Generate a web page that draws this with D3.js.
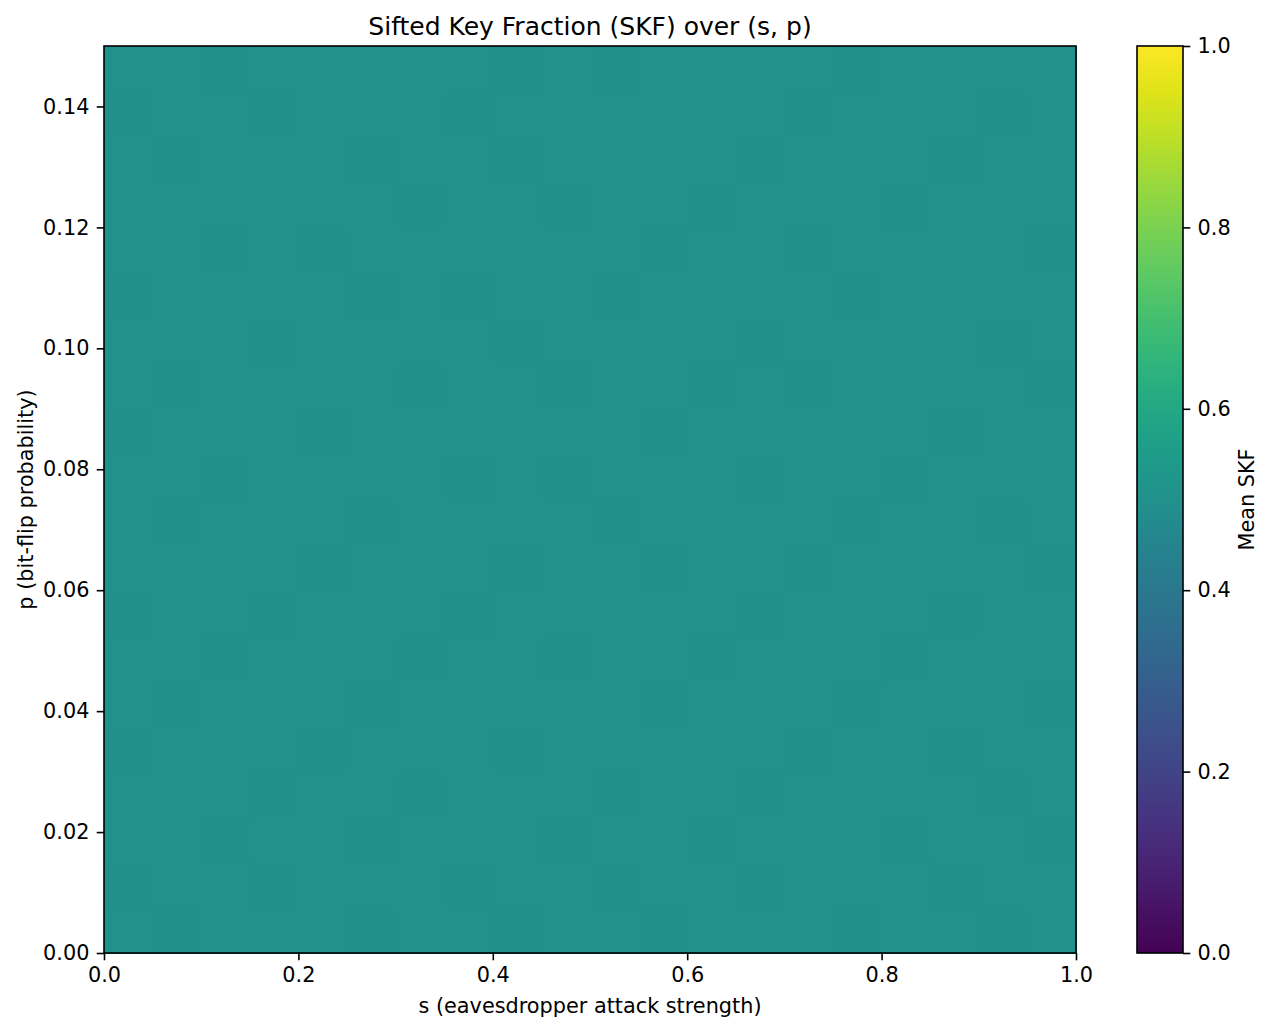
<!DOCTYPE html>
<html>
<head>
<meta charset="utf-8">
<script src="https://cdn.jsdelivr.net/npm/d3@7"></script>
<style>
html,body{margin:0;padding:0;background:#fff;}
svg text{font-family:"DejaVu Sans",sans-serif;fill:#000;}
</style>
</head>
<body>
<svg id="chart" width="1274" height="1032"></svg>
<script>
// Data
const sValues = [0.00,0.05,0.10,0.15,0.20,0.25,0.30,0.35,0.40,0.45,0.50,0.55,0.60,0.65,0.70,0.75,0.80,0.85,0.90,0.95,1.00];
const pValues = [0.0000,0.0075,0.0150,0.0225,0.0300,0.0375,0.0450,0.0525,0.0600,0.0675,0.0750,0.0825,0.0900,0.0975,0.1050,0.1125,0.1200,0.1275,0.1350,0.1425,0.1500];
// mean SKF per row (p bin, bottom to top), per column (s bin, left to right)
const skfRows = [
 [0.5010,0.4995,0.5000,0.5015,0.5000,0.4995,0.5005,0.5000,0.4990,0.5000,0.5005,0.4995,0.5000,0.5010,0.5000,0.4995,0.5005,0.5000,0.4995,0.5000],
 [0.4995,0.5005,0.5000,0.4990,0.5005,0.5000,0.5010,0.4995,0.5000,0.5005,0.4995,0.5000,0.5005,0.4995,0.5000,0.5010,0.5000,0.4995,0.5005,0.5000],
 [0.5000,0.5010,0.4995,0.5000,0.5005,0.4995,0.5000,0.5005,0.5000,0.4995,0.5010,0.5000,0.4995,0.5005,0.5000,0.5000,0.4995,0.5005,0.5000,0.4995],
 [0.5010,0.5000,0.5005,0.4995,0.5000,0.5010,0.4995,0.5000,0.5005,0.5000,0.4995,0.5005,0.5000,0.4990,0.5005,0.5000,0.5010,0.5000,0.4995,0.5005],
 [0.4995,0.5000,0.5005,0.5000,0.4995,0.5005,0.5000,0.5010,0.4995,0.5000,0.5005,0.5000,0.5010,0.5000,0.4995,0.5005,0.5000,0.4995,0.5000,0.5005],
 [0.5000,0.4995,0.5010,0.5005,0.5000,0.4995,0.5005,0.5000,0.5000,0.5010,0.5000,0.4995,0.5000,0.5005,0.5000,0.4995,0.5005,0.5000,0.5010,0.4995],
 [0.5005,0.5000,0.4995,0.5000,0.5010,0.5000,0.4995,0.5005,0.5000,0.4995,0.5000,0.5010,0.4995,0.5000,0.5005,0.5000,0.4995,0.5010,0.5000,0.5000],
 [0.4995,0.5005,0.5000,0.4995,0.5000,0.5005,0.5000,0.4995,0.5010,0.5000,0.5005,0.5000,0.5000,0.4995,0.5010,0.5000,0.5005,0.4995,0.5000,0.5005],
 [0.5000,0.5000,0.5005,0.5010,0.4995,0.5000,0.5010,0.5000,0.4995,0.5005,0.5000,0.4995,0.5005,0.5000,0.4995,0.5005,0.5000,0.5000,0.5005,0.4995],
 [0.5010,0.4995,0.5000,0.5000,0.5005,0.4995,0.5000,0.5005,0.5000,0.5000,0.4995,0.5005,0.5000,0.5010,0.5000,0.4995,0.5000,0.5005,0.4995,0.5000],
 [0.5000,0.5005,0.4995,0.5005,0.5000,0.5010,0.5000,0.4995,0.5005,0.4995,0.5000,0.5000,0.5010,0.4995,0.5005,0.5000,0.4995,0.5000,0.5005,0.5010],
 [0.4995,0.5000,0.5010,0.5000,0.4995,0.5000,0.5005,0.5000,0.5000,0.5005,0.5010,0.4995,0.5000,0.5005,0.5000,0.5010,0.5000,0.4995,0.5000,0.5000],
 [0.5005,0.4995,0.5000,0.5005,0.5000,0.5005,0.4995,0.5010,0.5000,0.4995,0.5000,0.5005,0.4995,0.5000,0.4995,0.5005,0.5000,0.5010,0.5000,0.4995],
 [0.5000,0.5010,0.5005,0.4995,0.5000,0.5000,0.5005,0.5000,0.4995,0.5010,0.5005,0.5000,0.5000,0.4995,0.5005,0.5000,0.5010,0.5000,0.4995,0.5005],
 [0.4995,0.5000,0.5000,0.5010,0.5005,0.4995,0.5000,0.4995,0.5005,0.5000,0.4995,0.5010,0.5005,0.5000,0.5000,0.4995,0.5000,0.5005,0.5000,0.5000],
 [0.5005,0.5000,0.4995,0.5000,0.4995,0.5005,0.5010,0.5000,0.5000,0.5005,0.5000,0.4995,0.5000,0.5010,0.4995,0.5000,0.5005,0.5000,0.5010,0.4995],
 [0.5000,0.5005,0.5000,0.5005,0.5000,0.5000,0.4995,0.5005,0.5010,0.4995,0.5005,0.5000,0.4995,0.5005,0.5000,0.5010,0.4995,0.5000,0.5005,0.5000],
 [0.5010,0.4995,0.5005,0.5000,0.5010,0.4995,0.5000,0.5000,0.4995,0.5005,0.5000,0.5005,0.5000,0.4995,0.5005,0.5000,0.5000,0.4995,0.5000,0.5005],
 [0.4995,0.5000,0.5000,0.4995,0.5005,0.5000,0.5005,0.4995,0.5000,0.5000,0.5010,0.5000,0.5005,0.5000,0.4995,0.5005,0.5000,0.5010,0.4995,0.5000],
 [0.5000,0.5005,0.4995,0.5000,0.5000,0.5010,0.5000,0.5005,0.4995,0.5000,0.4995,0.5005,0.5000,0.5005,0.5000,0.4995,0.5010,0.5000,0.5000,0.5005]
];
const xTicks = [0.0,0.2,0.4,0.6,0.8,1.0];
const yTicks = [0.00,0.02,0.04,0.06,0.08,0.10,0.12,0.14];
const cbTicks = [0.0,0.2,0.4,0.6,0.8,1.0];

const svg = d3.select("#chart");
const L=104, R=1076, T=46, B=953;
const FS = 20.8, TFS = 25;
const TL = 7.3, TP = 7.3;
const x = d3.scaleLinear().domain([0,1]).range([L,R]);
const y = d3.scaleLinear().domain([0,0.15]).range([B,T]);
const color = d3.scaleSequential(d3.interpolateViridis).domain([0,1]);

// cells
const cells=[];
skfRows.forEach((row,i)=>row.forEach((v,j)=>cells.push({i,j,v})));
svg.append("g").selectAll("rect").data(cells).join("rect")
  .attr("x",d=>x(sValues[d.j]))
  .attr("y",d=>y(pValues[d.i+1]))
  .attr("width",d=>x(sValues[d.j+1])-x(sValues[d.j])+0.5)
  .attr("height",d=>y(pValues[d.i])-y(pValues[d.i+1])+0.5)
  .attr("fill",d=>color(d.v))
  .attr("shape-rendering","crispEdges");

// frame
svg.append("rect").attr("x",L).attr("y",T).attr("width",R-L).attr("height",B-T)
  .attr("fill","none").attr("stroke","#000").attr("stroke-width",1.6);

// axes
const xAxis = d3.axisBottom(x).tickValues(xTicks).tickFormat(d3.format(".1f")).tickSize(TL).tickPadding(TP);
const gx = svg.append("g").attr("transform",`translate(0,${B})`).call(xAxis);
const yAxis = d3.axisLeft(y).tickValues(yTicks).tickFormat(d3.format(".2f")).tickSize(TL).tickPadding(TP);
const gy = svg.append("g").attr("transform",`translate(${L},0)`).call(yAxis);
[gx,gy].forEach(g=>{
  g.attr("font-size",null).attr("font-family",null);
  g.select(".domain").remove();
  g.selectAll(".tick line").attr("stroke","#000").attr("stroke-width",1.6);
  g.selectAll(".tick text").style("font-size",FS+"px");
});

// title and labels
svg.append("text").attr("x",(L+R)/2).attr("y",35).attr("text-anchor","middle")
  .style("font-size",TFS+"px").text("Sifted Key Fraction (SKF) over (s, p)");
svg.append("text").attr("x",(L+R)/2).attr("y",1013).attr("text-anchor","middle")
  .style("font-size",FS+"px").text("s (eavesdropper attack strength)");
svg.append("text").attr("transform",`translate(33,${(T+B)/2}) rotate(-90)`).attr("text-anchor","middle")
  .style("font-size",FS+"px").text("p (bit-flip probability)");

// colorbar
const cL=1137, cR=1183;
const cy = d3.scaleLinear().domain([0,1]).range([B,T]);
const defs = svg.append("defs");
const grad = defs.append("linearGradient").attr("id","vir").attr("x1","0").attr("y1","1").attr("x2","0").attr("y2","0");
d3.range(0,1.0001,0.05).forEach(t=>grad.append("stop").attr("offset",t).attr("stop-color",color(t)));
svg.append("rect").attr("x",cL).attr("y",T).attr("width",cR-cL).attr("height",B-T)
  .attr("fill","url(#vir)").attr("stroke","#000").attr("stroke-width",1.6);
const cAxis = d3.axisRight(cy).tickValues(cbTicks).tickFormat(d3.format(".1f")).tickSize(TL).tickPadding(TP);
const gc = svg.append("g").attr("transform",`translate(${cR},0)`).call(cAxis);
gc.attr("font-size",null).attr("font-family",null);
gc.select(".domain").remove();
gc.selectAll(".tick line").attr("stroke","#000").attr("stroke-width",1.6);
gc.selectAll(".tick text").style("font-size",FS+"px");
svg.append("text").attr("transform",`translate(1254,${(T+B)/2}) rotate(-90)`).attr("text-anchor","middle")
  .style("font-size",FS+"px").text("Mean SKF");
</script>
</body>
</html>
